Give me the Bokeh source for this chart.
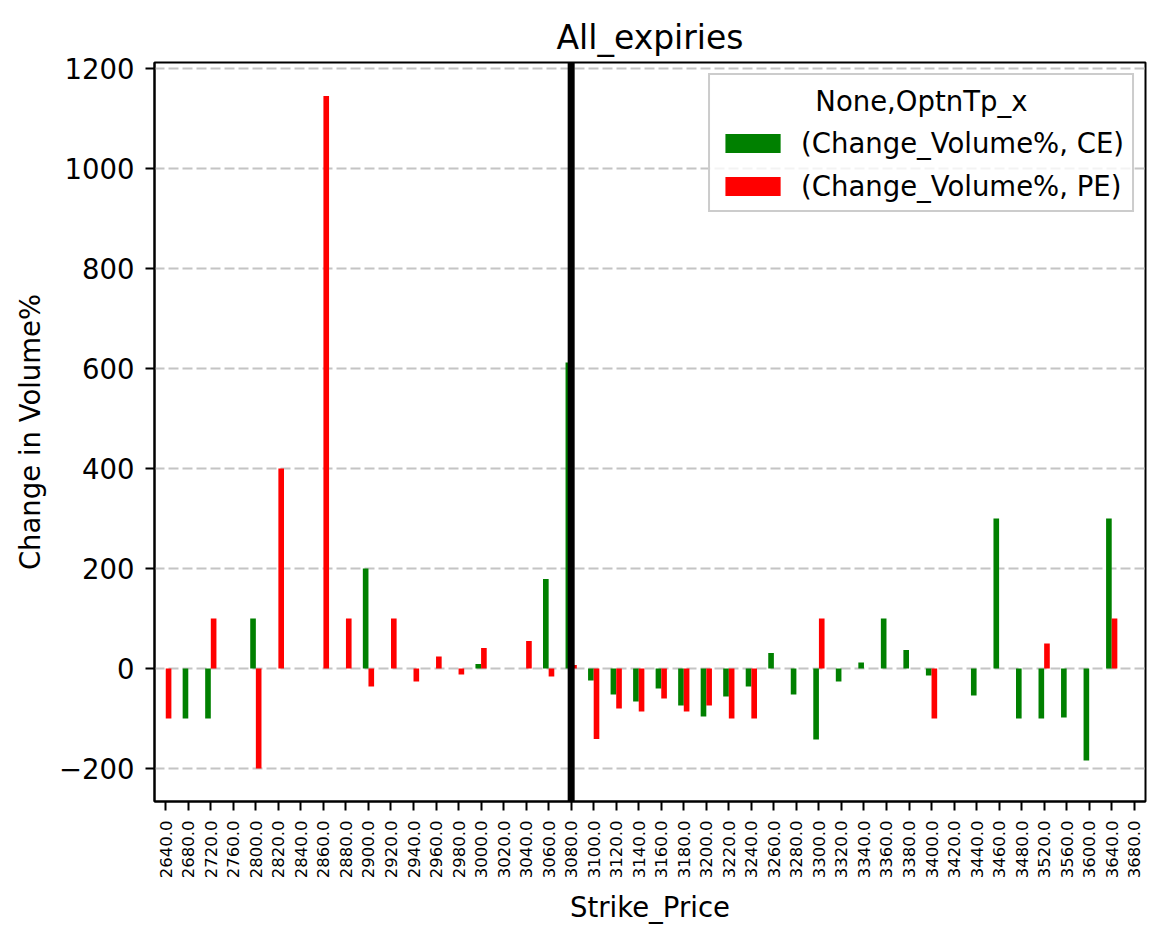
import math
import numpy as np
from bokeh.plotting import figure
from bokeh.models import (FactorRange, Range1d, FixedTicker, Span, Legend,
                          LegendItem, Label, ColumnDataSource, BoxAnnotation)
from bokeh.transform import dodge
from bokeh.embed import file_html
from bokeh.resources import INLINE

nan = float("nan")

# ---- data ----
strikes = [2640, 2680, 2720, 2760, 2800, 2820, 2840, 2860, 2880, 2900,
           2920, 2940, 2960, 2980, 3000, 3020, 3040, 3060, 3080, 3100,
           3120, 3140, 3160, 3180, 3200, 3220, 3240, 3260, 3280, 3300,
           3320, 3340, 3360, 3380, 3400, 3420, 3440, 3460, 3480, 3520,
           3560, 3600, 3640, 3680]
ce_change = [nan, -100, -100, nan, 100, nan, nan, nan, nan, 200,
             nan, nan, nan, nan, 9, nan, nan, 179, 612, -24,
             -52, -66, -40, -74, -96, -56, -36, 31, -52, -142,
             -26, 12, 100, 37, -14, nan, -54, 300, -100, -100,
             -98, -184, 300, nan]
pe_change = [-100, nan, 100, nan, -200, 400, nan, 1145, 100, -36,
             100, -26, 24, -12, 41, nan, 55, -16, 7, -141,
             -80, -86, -60, -86, -74, -100, -100, nan, nan, 100,
             nan, nan, nan, nan, -100, nan, nan, nan, nan, 50,
             nan, nan, 100, nan]
y_ticks = [-200, 0, 200, 400, 600, 800, 1000, 1200]
y_tick_labels = ["\u2212200", "0", "200", "400", "600", "800", "1000", "1200"]
atm_strike = 3080
title_text = "All_expiries"
legend_title = "None,OptnTp_x"
series_labels = ["(Change_Volume%, CE)", "(Change_Volume%, PE)"]
x_label = "Strike_Price"
y_label = "Change in Volume%"

FONT = "DejaVu Sans"

factors = [f"{s:.1f}" for s in strikes]
src = ColumnDataSource(dict(x=factors,
                            ce=np.array(ce_change, dtype=float),
                            pe=np.array(pe_change, dtype=float)))

p = figure(width=1166, height=939,
           x_range=FactorRange(*factors), y_range=Range1d(-266, 1212),
           output_backend="svg", toolbar_location=None,
           min_border_left=154, min_border_right=21,
           min_border_top=62, min_border_bottom=138)
p.background_fill_color = "white"
p.border_fill_color = "white"
p.outline_line_color = "black"
p.outline_line_width = 2
p.outline_line_alpha = 1

p.title.text = title_text
p.title.align = "center"
p.title.text_font = FONT
p.title.text_font_size = "33px"
p.title.text_font_style = "normal"
p.title.text_color = "black"
p.title.standoff = 12

r_ce = p.vbar(x=dodge("x", -0.125, range=p.x_range), top="ce", bottom=0,
              width=0.25, source=src, fill_color="#008000", line_color=None)
r_pe = p.vbar(x=dodge("x", 0.125, range=p.x_range), top="pe", bottom=0,
              width=0.25, source=src, fill_color="#ff0000", line_color=None)

# vertical marker at the ATM strike
p.add_layout(Span(location=factors.index(f"{atm_strike:.1f}") + 0.5,
                  dimension="height", line_color="black", line_width=7))

# grid
p.xgrid.visible = False
p.ygrid.ticker = FixedTicker(ticks=y_ticks)
p.ygrid.grid_line_color = "#c4c4c4"
p.ygrid.grid_line_width = 2
p.ygrid.grid_line_dash = "10 4"

# axes
for ax in (p.xaxis[0], p.yaxis[0]):
    ax.axis_line_width = 2
    ax.axis_line_color = "black"
    ax.major_tick_line_width = 2
    ax.major_tick_line_color = "black"
    ax.major_tick_in = 0
    ax.major_tick_out = 9
    ax.minor_tick_line_color = None
    ax.major_label_text_font = FONT
    ax.major_label_text_color = "black"
    ax.axis_label_text_font = FONT
    ax.axis_label_text_font_style = "normal"
    ax.axis_label_text_font_size = "27.5px"
    ax.axis_label_text_color = "black"

p.yaxis.ticker = FixedTicker(ticks=y_ticks)
p.yaxis.major_label_overrides = dict(zip(y_ticks, y_tick_labels))
p.yaxis.major_label_text_font_size = "27.5px"
p.yaxis.major_label_standoff = 11
p.yaxis.axis_label = y_label
p.yaxis.axis_label_standoff = 10

p.xaxis.major_label_orientation = math.pi / 2
p.xaxis.major_label_text_font_size = "16.5px"
p.xaxis.major_label_standoff = 10
p.xaxis.axis_label = x_label
p.xaxis.axis_label_standoff = 10

# translucent backdrop of the legend box
p.add_layout(BoxAnnotation(left=24.62, right=43.5, top=1189, bottom=910,
                           fill_color="white", fill_alpha=0.8,
                           line_color=None, level="annotation"))

# legend
legend = Legend(items=[LegendItem(label=series_labels[0], renderers=[r_ce]),
                       LegendItem(label=series_labels[1], renderers=[r_pe])],
                location="top_right", title=" ",
                title_text_font=FONT, title_text_font_size="27.5px",
                title_text_font_style="normal", title_standoff=12,
                label_text_font=FONT, label_text_font_size="27.5px",
                label_text_color="black",
                glyph_width=69, glyph_height=24, label_standoff=14,
                padding=8, spacing=11, margin=11,
                border_line_color="#cccccc", border_line_width=2,
                border_line_alpha=1, background_fill_alpha=0)
p.add_layout(legend)

# centred legend title
p.add_layout(Label(x=34.05, y=1136, text=legend_title, text_align="center",
                   text_baseline="middle", text_font=FONT,
                   text_font_size="27.5px", text_color="black",
                   level="overlay"))

open("out.html", "w").write(file_html(p, INLINE))
